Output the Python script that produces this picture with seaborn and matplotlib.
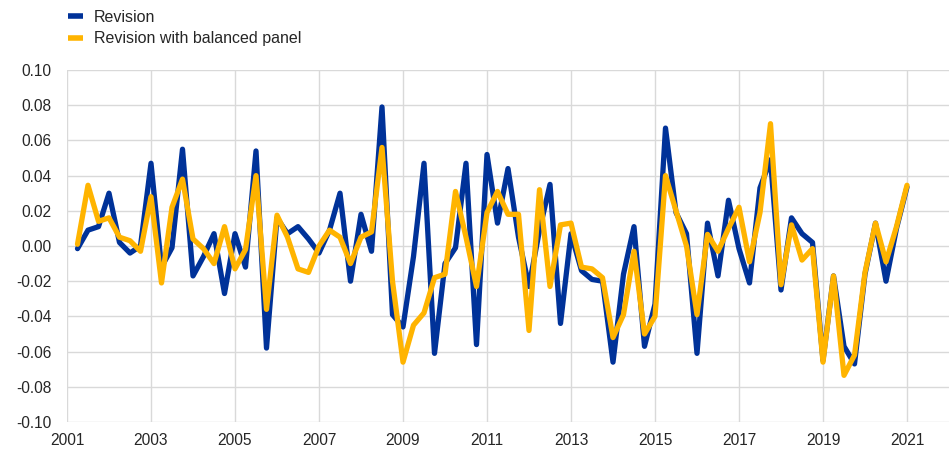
import numpy as np
import pandas as pd
import seaborn as sns
import matplotlib.pyplot as plt

# quarterly, 2001Q2 .. 2021Q1 (placed at quarter start as fractional years)
quarters = 2001.25 + 0.25 * np.arange(80)

revision = [
    -0.0015, 0.009, 0.011, 0.030, 0.002, -0.004, 0.000, 0.047, -0.012, -0.001,
    0.055, -0.017, -0.006, 0.007, -0.027, 0.007, -0.012, 0.054, -0.058, 0.016,
    0.007, 0.011, 0.004, -0.004, 0.009, 0.030, -0.020, 0.018, -0.003, 0.079,
    -0.039, -0.046, -0.006, 0.047, -0.061, -0.010, -0.001, 0.047, -0.056, 0.052,
    0.013, 0.044, 0.005, -0.023, 0.009, 0.035, -0.044, 0.007, -0.014, -0.019,
    -0.020, -0.066, -0.016, 0.011, -0.057, -0.033, 0.067, 0.019, 0.007, -0.061,
    0.013, -0.017, 0.026, -0.0015, -0.021, 0.033, 0.049, -0.025, 0.016, 0.007,
    0.002, -0.065, -0.017, -0.057, -0.067, -0.016, 0.013, -0.020, 0.010, 0.0335,
]

balanced = [
    0.001, 0.0345, 0.014, 0.016, 0.005, 0.003, -0.003, 0.028, -0.021, 0.022,
    0.038, 0.004, -0.0015, -0.010, 0.011, -0.013, -0.002, 0.040, -0.036, 0.0175,
    0.005, -0.013, -0.015, 0.000, 0.009, 0.005, -0.010, 0.005, 0.008, 0.056,
    -0.020, -0.066, -0.045, -0.038, -0.018, -0.016, 0.031, 0.005, -0.023, 0.019,
    0.031, 0.018, 0.018, -0.048, 0.032, -0.023, 0.012, 0.013, -0.012, -0.013,
    -0.018, -0.052, -0.039, -0.003, -0.050, -0.040, 0.040, 0.020, 0.000, -0.039,
    0.0066, -0.003, 0.010, 0.022, -0.009, 0.019, 0.0695, -0.022, 0.012, -0.008,
    -0.0015, -0.066, -0.017, -0.0735, -0.062, -0.015, 0.013, -0.009, 0.011, 0.0345,
]

series_names = ["Revision", "Revision with balanced panel"]
colors = ["#003299", "#FFB400"]

df = pd.concat([
    pd.DataFrame({"date": quarters, "value": revision, "series": series_names[0]}),
    pd.DataFrame({"date": quarters, "value": balanced, "series": series_names[1]}),
])

sns.set_style("white")
plt.rcParams["font.family"] = ["Liberation Sans", "DejaVu Sans"]
plt.rcParams["axes.unicode_minus"] = False

fig = plt.figure(figsize=(9.49, 4.5), dpi=100)
ax = fig.add_axes([67 / 949, 28 / 450, 882 / 949, 352 / 450])

sns.lineplot(data=df, x="date", y="value", hue="series", palette=colors,
             linewidth=3.8, ax=ax, legend=False)

ax.set_xlim(2001, 2022)
ax.set_ylim(-0.10, 0.10)
ax.set_xticks(range(2001, 2022, 2))
ax.set_yticks(np.arange(-0.10, 0.1001, 0.02))
ax.yaxis.set_major_formatter(plt.FormatStrFormatter("%.2f"))
ax.grid(True, color="#d9d9d9", linewidth=1)
ax.set_axisbelow(True)
for s in ax.spines.values():
    s.set_visible(False)
ax.tick_params(length=0, labelsize=11.2)
ax.tick_params(axis="y", pad=11)
ax.tick_params(axis="x", pad=8)
ax.set_xlabel("")
ax.set_ylabel("")

handles = [plt.Line2D([], [], color=c, linewidth=4, solid_capstyle="butt") for c in colors]
fig.legend(handles, series_names, loc="upper left", bbox_to_anchor=(58 / 949, 1.0),
           frameon=False, fontsize=11.5, handlelength=0.95, labelspacing=0.42,
           handletextpad=0.68, borderaxespad=0.2)

fig.savefig("out.png", dpi=100)
